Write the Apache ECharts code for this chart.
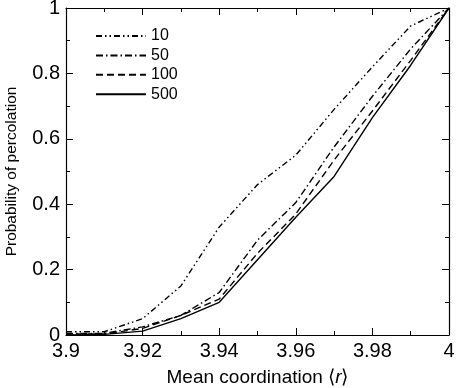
<!DOCTYPE html>
<html>
<head>
<meta charset="utf-8">
<script src="https://cdn.jsdelivr.net/npm/echarts@6/dist/echarts.min.js"></script>
<style>html,body{margin:0;padding:0;background:#fff}#c{width:457px;height:388px}</style>
</head>
<body>
<div id="c"></div>
<script>
var coords = [3.90, 3.91, 3.92, 3.93, 3.94, 3.95, 3.96, 3.97, 3.98, 3.99, 4.00];
var names = ['10', '50', '100', '500'];
var p10  = [0.010, 0.010, 0.050, 0.150, 0.330, 0.460, 0.550, 0.690, 0.820, 0.945, 1.0];
var p50  = [0.005, 0.005, 0.025, 0.060, 0.130, 0.290, 0.405, 0.575, 0.730, 0.875, 1.0];
var p100 = [0.003, 0.003, 0.020, 0.060, 0.110, 0.250, 0.370, 0.535, 0.685, 0.840, 1.0];
var p500 = [0.000, 0.002, 0.012, 0.050, 0.100, 0.230, 0.360, 0.485, 0.665, 0.825, 1.0];

var FONT = '"Liberation Sans", Arial, Helvetica, sans-serif';
function pairs(v){ return coords.map(function(x,i){ return [x, v[i]]; }); }
var dashes = [[6,3,1.5,3,1.5,3],[7,3,1.5,3],[7,4],'solid'];
var vals = [p10, p50, p100, p500];

var chart = echarts.init(document.getElementById('c'), null, {renderer:'canvas'});
var axisBase = {
  axisLine: {show: true, onZero: false, lineStyle: {color: '#000', width: 1.2}},
  axisTick: {show: true, inside: true, length: 7, lineStyle: {color: '#000', width: 1}},
  minorTick: {show: true, splitNumber: 2, length: 4, lineStyle: {color: '#000', width: 1}},
  splitLine: {show: false}
};
chart.setOption({
  animation: false,
  backgroundColor: '#fff',
  grid: {left: 66, right: 8, top: 8, bottom: 53, containLabel: false, outerBoundsMode: 'none'},
  legend: {
    orient: 'vertical', left: 90, top: 23,
    itemWidth: 50, itemHeight: 14, itemGap: 3.4,
    itemStyle: {opacity: 0},
    textStyle: {fontFamily: FONT, fontSize: 16, color: '#000'},
    data: names
  },
  xAxis: [
    Object.assign({}, axisBase, {
      type: 'value', min: 3.9, max: 4.0, interval: 0.02, position: 'bottom',
      axisLabel: {color: '#000', fontFamily: FONT, fontSize: 20, margin: 6},
      name: 'Mean coordination \u27e8{i|r}\u27e9', nameLocation: 'middle', nameGap: 33,
      nameTextStyle: {color: '#000', fontFamily: FONT, fontSize: 19,
        rich: {i: {fontStyle: 'italic', fontFamily: FONT, fontSize: 19, color: '#000'}}}
    }),
    Object.assign({}, axisBase, {
      type: 'value', min: 3.9, max: 4.0, interval: 0.02, position: 'top',
      axisLabel: {show: false}
    })
  ],
  yAxis: [
    Object.assign({}, axisBase, {
      type: 'value', min: 0, max: 1, interval: 0.2, position: 'left',
      axisLabel: {color: '#000', fontFamily: FONT, fontSize: 20, margin: 6},
      name: 'Probability of percolation', nameLocation: 'middle', nameGap: 46,
      nameTextStyle: {color: '#000', fontFamily: FONT, fontSize: 15.5}
    }),
    Object.assign({}, axisBase, {
      type: 'value', min: 0, max: 1, interval: 0.2, position: 'right',
      axisLabel: {show: false}
    })
  ],
  series: names.map(function(n, k){
    return {
      name: n, type: 'line', xAxisIndex: 0, yAxisIndex: 0,
      data: pairs(vals[k]), symbol: 'none', smooth: false,
      lineStyle: {color: '#000', width: 1.4, type: dashes[k]},
      itemStyle: {color: '#000'}
    };
  })
});
</script>
</body>
</html>
